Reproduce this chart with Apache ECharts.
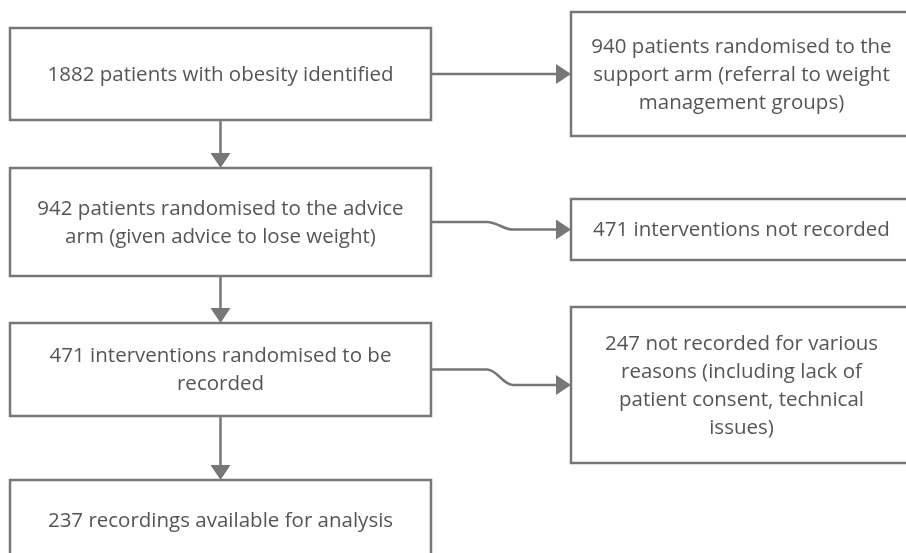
<!DOCTYPE html>
<html>
<head>
<meta charset="utf-8">
<script src="https://cdn.jsdelivr.net/npm/echarts@6/dist/echarts.min.js"></script>
<style>
html,body{margin:0;padding:0;background:#fff;}
#chart{width:906px;height:553px;}
</style>
</head>
<body>
<div id="chart"></div>
<script>
// Node labels (flowchart boxes)
var nodeLabels = [
  '1882 patients with obesity identified',
  '940 patients randomised to the\nsupport arm (referral to weight\nmanagement groups)',
  '942 patients randomised to the advice\narm (given advice to lose weight)',
  '471 interventions not recorded',
  '471 interventions randomised to be\nrecorded',
  '247 not recorded for various\nreasons (including lack of\npatient consent, technical\nissues)',
  '237 recordings available for analysis'
];
// Box extents in layout units (left, top, right, bottom)
var boxLeft   = [10, 571, 10, 571, 10, 571, 10];
var boxTop    = [28, 12, 168, 199, 323, 307, 480];
var boxRight  = [431, 915, 431, 915, 431, 915, 431];
var boxBottom = [120, 136, 276, 260, 416, 463, 560];
// Edges: from, to, kind  ('down' | 'right' | 'curve')
var edgeFrom = [0, 0, 2, 2, 4, 4];
var edgeTo   = [2, 1, 4, 3, 6, 5];
var edgeKind = ['down', 'right', 'down', 'curve', 'down', 'curve'];

var LINE = '#777777';
var TEXT = '#555555';

var nodeData = nodeLabels.map(function (t, i) {
  return [boxLeft[i], boxTop[i], boxRight[i], boxBottom[i], i];
});
var edgeData = edgeFrom.map(function (f, i) { return [f, edgeTo[i], i]; });

function centerOf(i) {
  return [(boxLeft[i] + boxRight[i]) / 2, (boxTop[i] + boxBottom[i]) / 2];
}

var chart = echarts.init(document.getElementById('chart'), null, {renderer: 'canvas'});
chart.setOption({
  backgroundColor: '#ffffff',
  animation: false,
  grid: {left: 0, right: 0, top: 0, bottom: 0},
  xAxis: {type: 'value', min: 0, max: 906, show: false},
  yAxis: {type: 'value', min: 0, max: 553, inverse: true, show: false},
  series: [
    {
      type: 'custom',
      coordinateSystem: 'cartesian2d',
      data: edgeData,
      silent: true,
      z: 1,
      renderItem: function (params, api) {
        var f = api.value(0), t = api.value(1), k = edgeKind[api.value(2)];
        var ah = 15, aw = 10;
        if (k === 'down') {
          var cx = centerOf(f)[0];
          var p0 = api.coord([cx, boxBottom[f]]);
          var p1 = api.coord([cx, boxTop[t]]);
          return {type: 'group', children: [
            {type: 'line', shape: {x1: p0[0], y1: p0[1], x2: p1[0], y2: p1[1] - ah}, style: {stroke: LINE, lineWidth: 2.5}},
            {type: 'polygon', shape: {points: [[p1[0] - aw, p1[1] - ah], [p1[0] + aw, p1[1] - ah], [p1[0], p1[1]]]}, style: {fill: LINE}}
          ]};
        }
        var sy = centerOf(f)[1], ty = centerOf(t)[1];
        var q0 = api.coord([boxRight[f], sy]);
        var q1 = api.coord([boxLeft[t], ty]);
        if (k === 'right') {
          return {type: 'group', children: [
            {type: 'line', shape: {x1: q0[0], y1: q0[1], x2: q1[0] - ah, y2: q0[1]}, style: {stroke: LINE, lineWidth: 2.5}},
            {type: 'polygon', shape: {points: [[q1[0] - ah, q0[1] - aw], [q1[0] - ah, q0[1] + aw], [q1[0], q0[1]]]}, style: {fill: LINE}}
          ]};
        }
        var xa = q0[0] + 56, xb = q0[0] + 82;
        var path = 'M' + q0[0] + ' ' + q0[1] + ' L' + xa + ' ' + q0[1] +
          ' C' + (xa + 10) + ' ' + q0[1] + ' ' + (xb - 10) + ' ' + q1[1] + ' ' + xb + ' ' + q1[1] +
          ' L' + (q1[0] - ah) + ' ' + q1[1];
        return {type: 'group', children: [
          {type: 'path', shape: {pathData: path}, style: {stroke: LINE, lineWidth: 2.5, fill: null}},
          {type: 'polygon', shape: {points: [[q1[0] - ah, q1[1] - aw], [q1[0] - ah, q1[1] + aw], [q1[0], q1[1]]]}, style: {fill: LINE}}
        ]};
      }
    },
    {
      type: 'custom',
      coordinateSystem: 'cartesian2d',
      data: nodeData,
      silent: true,
      z: 2,
      renderItem: function (params, api) {
        var i = api.value(4);
        var a = api.coord([api.value(0), api.value(1)]);
        var b = api.coord([api.value(2), api.value(3)]);
        var visRight = Math.min(b[0], 906);
        return {type: 'group', children: [
          {type: 'rect', shape: {x: a[0], y: a[1], width: b[0] - a[0], height: b[1] - a[1]},
            style: {fill: '#ffffff', stroke: LINE, lineWidth: 2.5}},
          {type: 'text', x: (a[0] + visRight) / 2 + (b[0] > 906 ? 3 : 0), y: (a[1] + b[1]) / 2 + 1,
            style: {text: nodeLabels[i], fill: TEXT, fontFamily: 'Open Sans', fontSize: 20.5, lineHeight: 28,
              align: 'center', verticalAlign: 'middle'}}
        ]};
      }
    }
  ]
});
</script>
</body>
</html>
